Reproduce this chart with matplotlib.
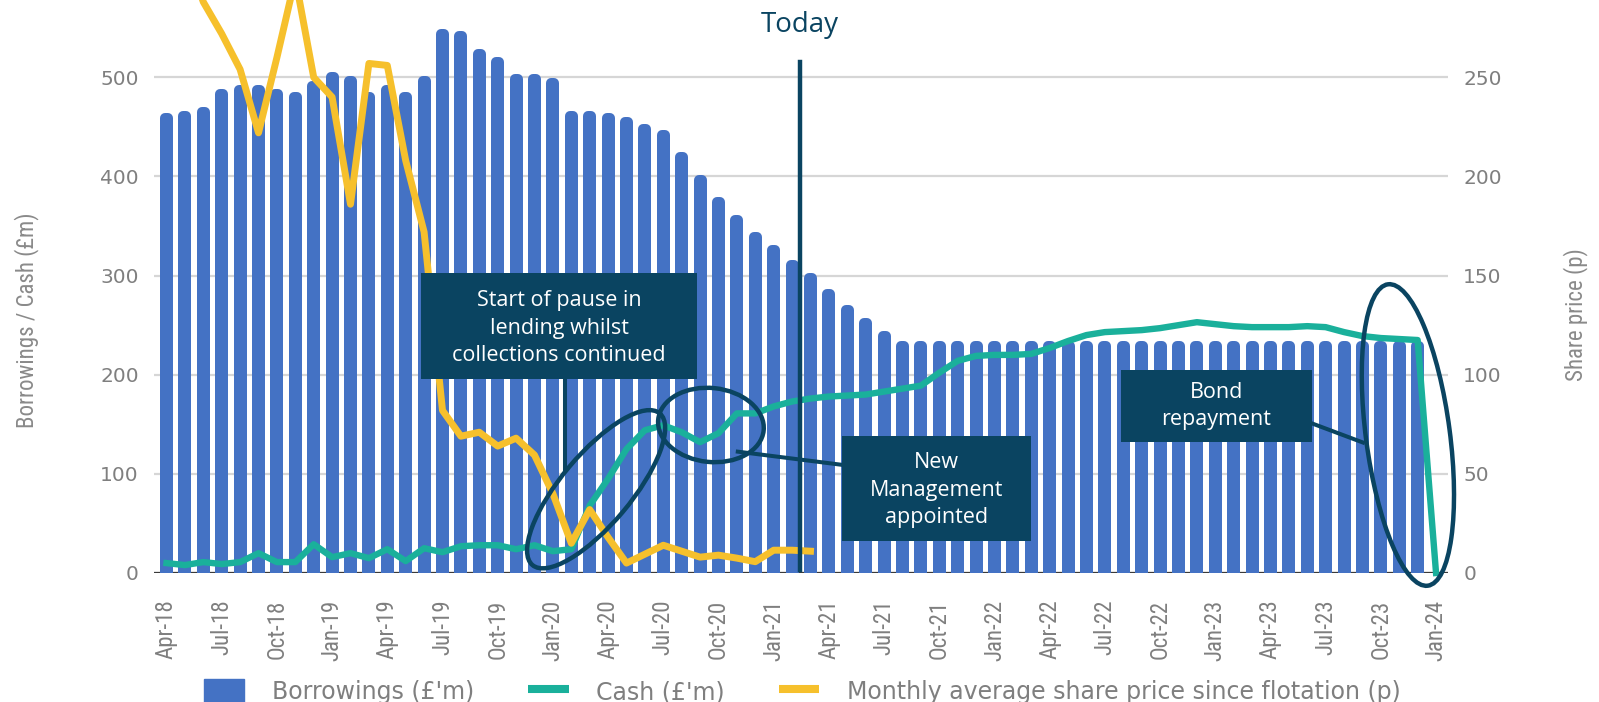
import matplotlib
matplotlib.use("Agg")
import matplotlib.pyplot as plt
import matplotlib.transforms as mtransforms
from matplotlib.patches import Ellipse, Rectangle, Patch
from matplotlib.lines import Line2D
import numpy as np

# ---------------- data ----------------
tick_labels = ["Apr-18", "Jul-18", "Oct-18", "Jan-19", "Apr-19", "Jul-19", "Oct-19", "Jan-20",
               "Apr-20", "Jul-20", "Oct-20", "Jan-21", "Apr-21", "Jul-21", "Oct-21", "Jan-22",
               "Apr-22", "Jul-22", "Oct-22", "Jan-23", "Apr-23", "Jul-23", "Oct-23", "Jan-24"]

# Borrowings (GBP m), monthly Apr-18 .. Dec-23
borrowings = [464, 466, 470, 488, 492, 492, 488, 485, 496, 505, 501, 485,
              492, 485, 501, 549, 547, 529, 521, 503, 503, 499, 466, 466,
              464, 460, 453, 447, 425, 401, 379, 361, 344, 331, 316, 303,
              286, 270, 257, 244, 234, 234, 234, 234, 234, 234, 234, 234,
              234, 234, 234, 234, 234, 234, 234, 234, 234, 234, 234, 234,
              234, 234, 234, 234, 234, 234, 234, 234, 234]

# Cash (GBP m), monthly Apr-18 .. Jan-24
cash = [10, 8, 11, 9, 11, 20, 11, 11, 29, 16, 20, 15,
        24, 12, 25, 21, 27, 28, 28, 24, 28, 22, 24, 68,
        95, 125, 144, 149, 142, 132, 141, 161, 161, 168, 173, 176,
        178, 179, 180, 183, 186, 189, 202, 214, 219, 220, 220, 221,
        227, 234, 240, 243, 244, 245, 247, 250, 253, 251, 249, 248,
        248, 248, 249, 248, 243, 239, 237, 236, 235, 0]

# Monthly average share price (p), right axis; Apr-18 .. Mar-21
share_price = [np.nan, 315, 288, 272, 254, 222, 260, 300, 250, 240, 186, 257,
               256, 208, 172, 82, 69, 71, 64, 68, 59.5, 40, 15, 32,
               18, 5, 9.5, 14, 11, 8, 9, 7.5, 5.7, 11.5, 11.5, 11]

today_x = 34.43

# ---------------- style ----------------
BLUE = "#4472C4"
TEAL = "#1AB09B"
YELLOW = "#F6C02C"
NAVY = "#0A4461"
GRAY = "#7f7f7f"
GRID = "#d6d6d6"
CONDENSED = ["Noto Sans ExtraCondensed", "Noto Sans Condensed", "Roboto Condensed",
             "Open Sans Condensed", "Liberation Sans Narrow", "DejaVu Sans"]
WIDE = ["DejaVu Sans"]
ANNOT = ["Open Sans", "Lato", "DejaVu Sans"]

W, H = 1599, 702
fig = plt.figure(figsize=(W / 100, H / 100), dpi=100)
ax = fig.add_axes([154 / W, 1 - 573 / H, (1448 - 154) / W, 573 / H])
ax.set_xlim(-0.68, 69.65)
ax.set_ylim(0, 578)

# bars with rounded tops (thick round-joined edge, shifted down by half edge width)
edge_px = 10
bars = ax.bar(np.arange(len(borrowings)), borrowings, width=0.16, color=BLUE,
              edgecolor=BLUE, linewidth=edge_px * 0.72, joinstyle="round", zorder=2)
shift = mtransforms.ScaledTranslation(0, -edge_px / 2 / 100, fig.dpi_scale_trans)
for b in bars:
    b.set_transform(ax.transData + shift)

ax.axhline(0, color="#3a3a3a", lw=1.6, zorder=1.5)
ax.grid(axis="y", color=GRID, lw=1.6)
ax.set_axisbelow(True)

x_all = np.arange(len(cash))
ax.plot(x_all, cash, color=TEAL, lw=4.6, zorder=3, clip_on=False)

ax.set_xticks(np.arange(0, 70, 3))
ax.set_xticklabels(tick_labels, rotation=90, family=CONDENSED, stretch="extra-condensed",
                   fontsize=16.5, color=GRAY)
ax.set_yticks([0, 100, 200, 300, 400, 500])
ax.tick_params(axis="x", length=0, pad=19)
ax.tick_params(axis="y", length=0, pad=11, labelsize=14.5, labelcolor=GRAY)
for lab in ax.get_yticklabels():
    lab.set_family(WIDE)
for s in ax.spines.values():
    s.set_visible(False)

ax2 = ax.twinx()
ax2.set_ylim(0, 289)
ax2.set_yticks([0, 50, 100, 150, 200, 250])
ax2.tick_params(axis="y", length=0, pad=11, labelsize=14.5, labelcolor=GRAY)
for s in ax2.spines.values():
    s.set_visible(False)
ax2.plot(np.arange(len(share_price)), share_price, color=YELLOW, lw=5.0, zorder=3)

# axis titles
fig.text(27 / W, 1 - 320 / H, "Borrowings / Cash (£m)", rotation=90, ha="center", va="center",
         family=CONDENSED, stretch="extra-condensed", fontsize=16.5, color="#8a8a8a")
fig.text(1576 / W, 1 - 315 / H, "Share price (p)", rotation=90, ha="center", va="center",
         family=CONDENSED, stretch="extra-condensed", fontsize=16.5, color="#8a8a8a")

# Today marker
ax2.add_line(Line2D([today_x, today_x], [3, 515], transform=ax.transData, color=NAVY,
                    lw=3.2, zorder=4))
ax2.text(today_x, 0.944, "Today", transform=ax.get_xaxis_transform(), ha="center",
         va="baseline", family=ANNOT, fontsize=20, color=NAVY, zorder=6, clip_on=False)

# annotation boxes
boxes = [
    (13.83, 195.7, 15.0, 106.9, 21.33, 247, "Start of pause in\nlending whilst\ncollections continued"),
    (36.71, 32.3, 10.27, 105.4, 41.85, 83.7, "New\nManagement\nappointed"),
    (51.87, 132.4, 10.40, 72.4, 57.07, 168.4, "Bond\nrepayment"),
]
for x0, y0, w, h, tx, ty, txt in boxes:
    ax2.add_patch(Rectangle((x0, y0), w, h, transform=ax.transData, facecolor=NAVY,
                            edgecolor="none", zorder=5))
    ax2.text(tx, ty, txt, transform=ax.transData, ha="center", va="center", color="white",
             family=ANNOT, fontsize=15.5, linespacing=1.42, zorder=6)

# connectors
connectors = [((21.66, 21.66), (195.7, 104)),
              ((31.05, 36.76), (122.4, 109)),
              ((62.2, 65.03), (151.3, 131.6))]
for xs, ys in connectors:
    ax2.add_line(Line2D(xs, ys, transform=ax.transData, color=NAVY, lw=2.9, zorder=4))

# ellipses (centre in data coords, size in pixels)
ellipses = [(23.35, 84.5, 99, 35, 50),
            (29.59, 149.3, 53, 37, -6),
            (67.47, 139.2, 152, 42, 97.5)]
for cx, cy, a, b, ang in ellipses:
    tr = fig.dpi_scale_trans + mtransforms.ScaledTranslation(cx, cy, ax.transData)
    ax2.add_patch(Ellipse((0, 0), 2 * a / 100, 2 * b / 100, angle=ang, transform=tr,
                          fill=False, edgecolor=NAVY, lw=3.2, zorder=4, clip_on=False))

# legend
handles = [Patch(facecolor=BLUE, edgecolor=BLUE),
           Line2D([0], [0], color=TEAL, lw=5.8, solid_capstyle="butt"),
           Line2D([0], [0], color=YELLOW, lw=5.8, solid_capstyle="butt")]
labels = ["Borrowings (£'m)", "Cash (£'m)", "Monthly average share price since flotation (p)"]
leg = fig.legend(handles, labels, loc="center", bbox_to_anchor=(0.5016, 0.015), ncol=3,
                 frameon=False, fontsize=17, handlelength=1.72, handleheight=1.3,
                 handletextpad=1.15, columnspacing=2.3, labelcolor=GRAY)

fig.savefig("out.png", dpi=100)
